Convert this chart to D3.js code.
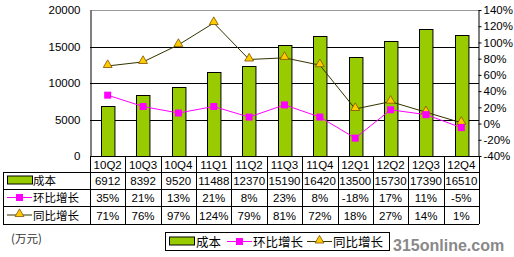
<!DOCTYPE html>
<html>
<head>
<meta charset="utf-8">
<script src="https://cdn.jsdelivr.net/npm/d3@7"></script>
<style>
  body { margin: 0; background: #fff; }
  svg text { font-family: "Liberation Sans", "DejaVu Sans", sans-serif; }
  .cn { font-family: "Noto Sans CJK SC", sans-serif; }
</style>
</head>
<body>
<svg class="chart" width="514" height="257"></svg>
<script>
const quarters = ['10Q2', '10Q3', '10Q4', '11Q1', '11Q2', '11Q3', '11Q4', '12Q1', '12Q2', '12Q3', '12Q4'];
const cost = [6912, 8392, 9520, 11488, 12370, 15190, 16420, 13500, 15730, 17390, 16510];
const qoq = [35, 21, 13, 21, 8, 23, 8, -18, 17, 11, -5];
const yoy = [71, 76, 97, 124, 79, 81, 72, 18, 27, 14, 1];
const leftTicks = [0, 5000, 10000, 15000, 20000];
const rightTicks = [-40, -20, 0, 20, 40, 60, 80, 100, 120, 140];

const svg = d3.select('svg.chart');

const plotLeft = 90, plotRight = 479, plotTop = 10, plotBottom = 156;
const green = '#99CC00', magenta = '#FF00FF', olive = '#333300', yellow = '#FFCC00';

const xCol = d3.scaleBand().domain(quarters).range([plotLeft, plotRight]);
const xBar = d3.scaleBand().domain(quarters).range([plotLeft, plotRight])
    .paddingInner(0.62).paddingOuter(0.31);
const yL = d3.scaleLinear().domain([0, 20000]).range([plotBottom, plotTop]);
const yR = d3.scaleLinear().domain([-40, 140]).range([plotBottom, plotTop]);
const cx = d => xCol(d) + xCol.bandwidth() / 2;

// grid
svg.append('g').selectAll('line')
    .data(leftTicks.slice(1, -1))
    .enter().append('line')
    .attr('x1', plotLeft).attr('x2', plotRight)
    .attr('y1', d => Math.round(yL(d)) + 0.5).attr('y2', d => Math.round(yL(d)) + 0.5)
    .attr('stroke', '#000');
svg.append('line')
    .attr('x1', plotLeft).attr('x2', plotRight).attr('y1', plotTop + 0.5).attr('y2', plotTop + 0.5)
    .attr('stroke', '#999');

// left axis
const axL = svg.append('g')
    .attr('transform', `translate(${plotLeft + 0.5},0)`)
    .call(d3.axisLeft(yL).tickValues(leftTicks).tickSize(0).tickPadding(10).tickFormat(d3.format('d')));
axL.select('.domain').attr('stroke', '#000');
axL.selectAll('text').attr('font-size', 11.5).attr('fill', '#000');

// right axis
const axR = svg.append('g')
    .attr('transform', `translate(${plotRight - 0.5},0)`)
    .call(d3.axisRight(yR).tickValues(rightTicks).tickSize(3).tickSizeOuter(0).tickPadding(2).tickFormat(d => d + '%'));
axR.select('.domain').attr('stroke', '#000');
axR.selectAll('line').attr('stroke', '#000');
axR.selectAll('text').attr('font-size', 11.5).attr('fill', '#000');

// bars
svg.append('g').selectAll('rect')
    .data(cost)
    .enter().append('rect')
    .attr('x', (d, i) => Math.round(xBar(quarters[i])) + 0.5)
    .attr('y', d => Math.round(yL(d)) + 0.5)
    .attr('width', xBar.bandwidth())
    .attr('height', d => plotBottom - Math.round(yL(d)))
    .attr('fill', green)
    .attr('stroke', '#000');

// lines
const lineQ = d3.line().x((d, i) => cx(quarters[i])).y(d => yR(d));
svg.append('path').attr('d', lineQ(yoy)).attr('fill', 'none').attr('stroke', olive).attr('stroke-width', 1);
svg.append('path').attr('d', lineQ(qoq)).attr('fill', 'none').attr('stroke', magenta).attr('stroke-width', 1);

const tri = d3.symbol().type(d3.symbolTriangle).size(34);
svg.append('g').selectAll('path')
    .data(yoy)
    .enter().append('path')
    .attr('d', tri)
    .attr('transform', (d, i) => `translate(${cx(quarters[i])},${yR(d) - 1})`)
    .attr('fill', yellow).attr('stroke', '#805000').attr('stroke-width', 0.8);

svg.append('g').selectAll('rect')
    .data(qoq)
    .enter().append('rect')
    .attr('x', (d, i) => cx(quarters[i]) - 3.5)
    .attr('y', d => yR(d) - 3.5)
    .attr('width', 7).attr('height', 7)
    .attr('fill', magenta);

// data table
const rowY = [156, 172, 189, 206, 224];
const tableLeft = 3;
const t = svg.append('g').attr('shape-rendering', 'crispEdges');
rowY.forEach((y, i) => {
    t.append('line')
        .attr('x1', i === 0 ? plotLeft : tableLeft).attr('x2', plotRight)
        .attr('y1', y + 0.5).attr('y2', y + 0.5).attr('stroke', '#000');
});
quarters.concat(['end']).forEach((q, i) => {
    const x = i < quarters.length ? xCol(q) : plotRight;
    t.append('line').attr('x1', x + 0.5).attr('x2', x + 0.5)
        .attr('y1', rowY[0]).attr('y2', rowY[4]).attr('stroke', '#000');
});
t.append('line').attr('x1', tableLeft + 0.5).attr('x2', tableLeft + 0.5)
    .attr('y1', rowY[1]).attr('y2', rowY[4]).attr('stroke', '#000');

const rows = [
    quarters,
    cost.map(String),
    qoq.map(d => d + '%'),
    yoy.map(d => d + '%')
];
rows.forEach((vals, r) => {
    t.append('g').selectAll('text')
        .data(vals)
        .enter().append('text')
        .attr('x', (d, i) => cx(quarters[i]))
        .attr('y', (rowY[r] + rowY[r + 1]) / 2 + 4.5)
        .attr('text-anchor', 'middle')
        .attr('font-size', 11.5)
        .text(d => d);
});

// legend keys (table and bottom box)
const seriesNames = ['成本', '环比增长', '同比增长'];
function key(g, type, x, y) {
    if (type === 0) {
        g.append('rect').attr('x', x + 0.5).attr('y', y - 4.5).attr('width', 25).attr('height', 8)
            .attr('fill', green).attr('stroke', '#000');
    } else if (type === 1) {
        g.append('line').attr('x1', x).attr('x2', x + 25).attr('y1', y).attr('y2', y).attr('stroke', magenta);
        g.append('rect').attr('x', x + 9).attr('y', y - 3.5).attr('width', 7).attr('height', 7).attr('fill', magenta);
    } else {
        g.append('line').attr('x1', x).attr('x2', x + 25).attr('y1', y).attr('y2', y).attr('stroke', olive);
        g.append('path').attr('d', tri).attr('transform', `translate(${x + 12.5},${y - 1})`)
            .attr('fill', yellow).attr('stroke', '#805000').attr('stroke-width', 0.8);
    }
}
seriesNames.forEach((name, i) => {
    const y = (rowY[i + 1] + rowY[i + 2]) / 2;
    key(svg, i, 7, y);
    svg.append('text').attr('class', 'cn').attr('x', 33).attr('y', y + 4.5)
        .attr('font-size', 11.5).text(name);
});

svg.append('text').attr('class', 'cn').attr('x', 11).attr('y', 243)
    .attr('font-size', 11.5).attr('fill', '#333').text('(万元)');

const lg = svg.append('g');
lg.append('rect').attr('x', 165.5).attr('y', 232.5).attr('width', 224).attr('height', 18)
    .attr('fill', '#fff').attr('stroke', '#000');
const legendX = [169, 227, 307];
seriesNames.forEach((name, i) => {
    key(lg, i, legendX[i], 241.5);
    lg.append('text').attr('class', 'cn').attr('x', legendX[i] + (i === 0 ? 27 : 26)).attr('y', 246.5)
        .attr('font-size', 12.5).text(name);
});

// site mark
svg.append('text').attr('x', 393).attr('y', 251)
    .attr('font-size', 16).attr('font-weight', 'bold').attr('fill', '#888')
    .text('315online.com');
</script>
</body>
</html>
